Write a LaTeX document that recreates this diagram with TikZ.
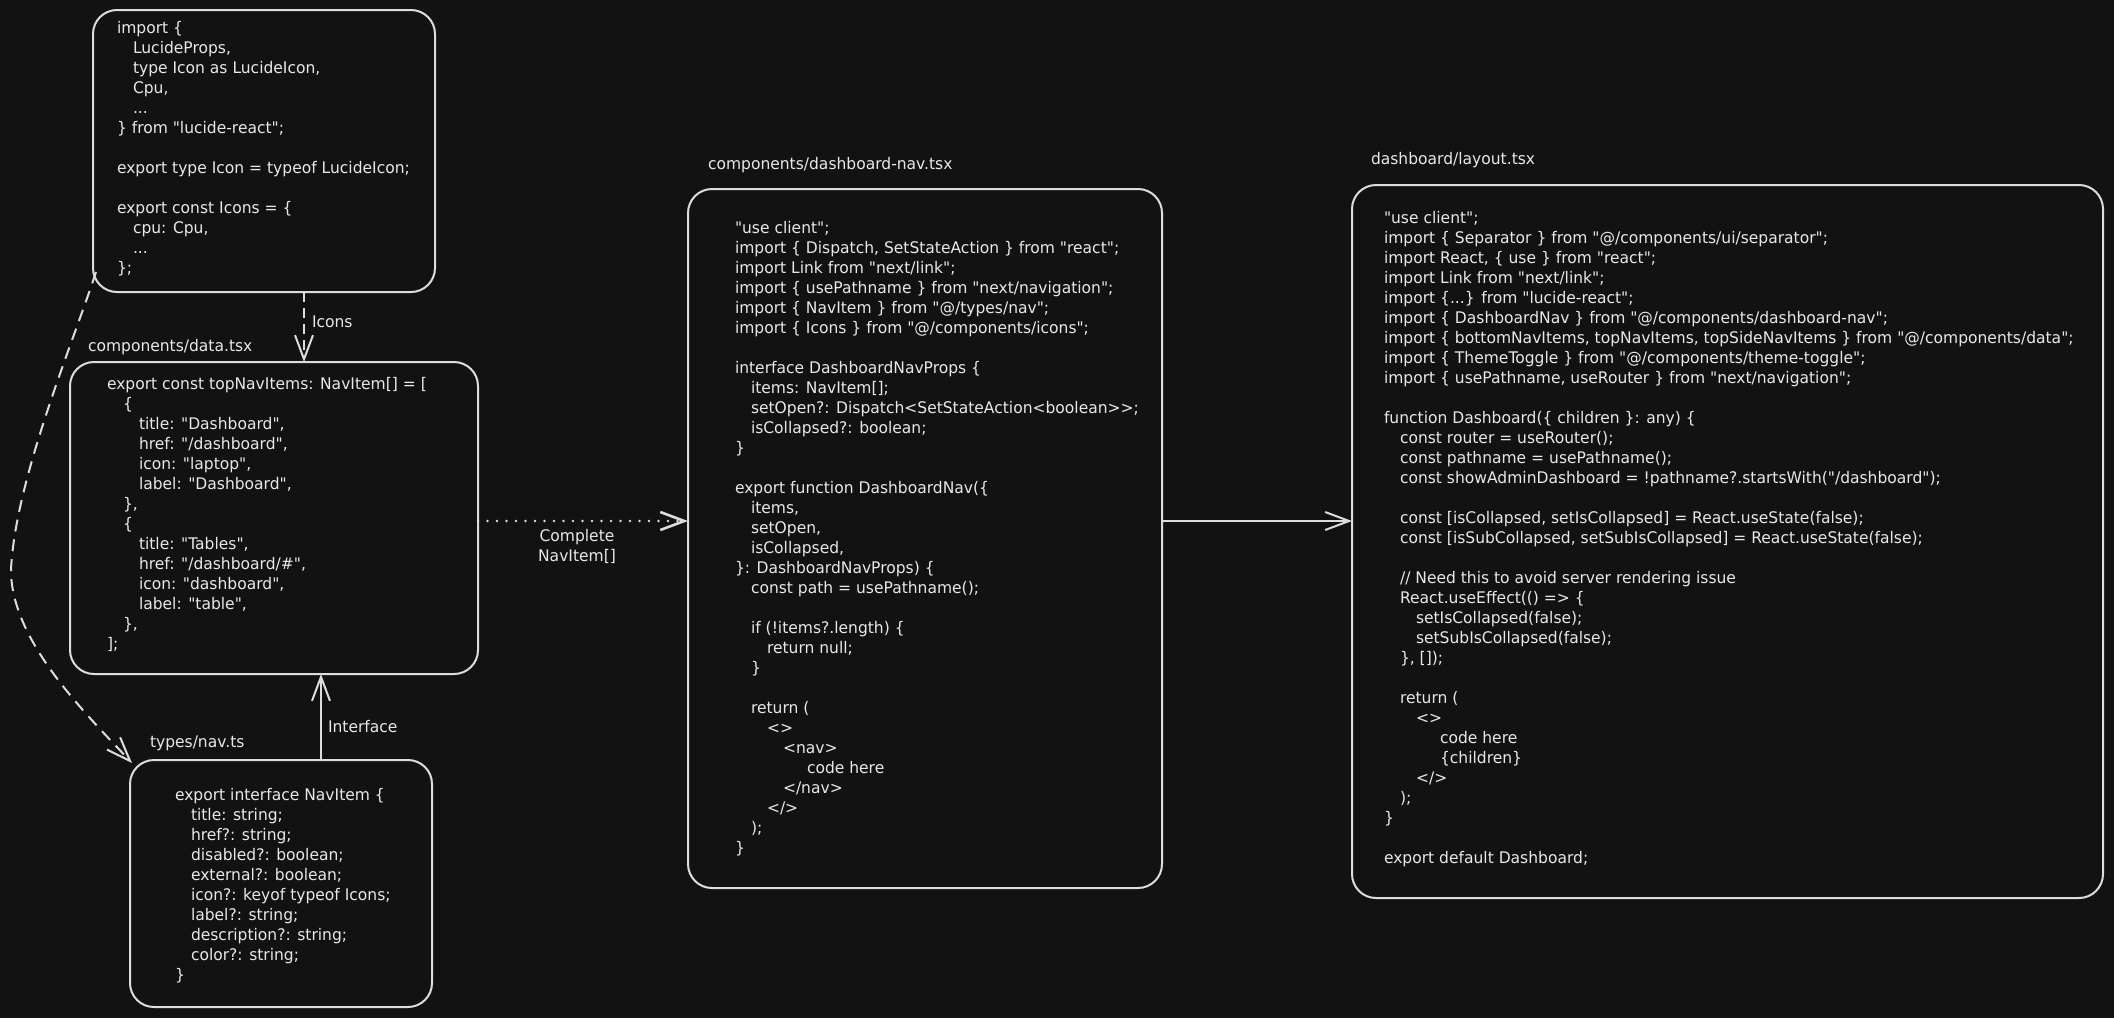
\documentclass[tikz,border=0pt]{standalone}
\usepackage{fontspec}
\usetikzlibrary{arrows.meta,calc}
\newfontfamily\codefont{DejaVu Sans}[FakeStretch=0.97]
\definecolor{bgc}{HTML}{121212}
\definecolor{inkc}{HTML}{DDDDDD}
\definecolor{txtc}{HTML}{E8E8E8}
\newcommand\codeind[1]{\hspace*{#1\dimexpr 8pt\relax}}
\begin{document}
\begin{tikzpicture}[x=0.5pt,y=-0.5pt,
  every node/.style={inner sep=0pt, outer sep=0pt, text=txtc, font=\codefont\fontsize{8pt}{10pt}\selectfont},
  box/.style={draw=inkc, line width=1pt, rounded corners=12pt},
  code/.style={anchor=base west, align=left},
  lbl/.style={anchor=west},
  link/.style={draw=inkc, line width=1pt, -{Straight Barb[length=12pt,width=9pt]}},
  dashlink/.style={link, dash pattern=on 5pt off 3pt},
  curvelink/.style={link, dash pattern=on 6pt off 4pt},
  dotlink/.style={link, line cap=round, line width=1.3pt, dash pattern=on 0pt off 4.75pt}]
\fill[bgc] (0,0) rectangle (2114,1018);
\useasboundingbox (0,0) rectangle (2114,1018);

% boxes
\node[box, minimum width=171pt, minimum height=141pt] (b1) at (264,151) {};
\node[box, minimum width=204pt, minimum height=156pt] (b2) at (274,518) {};
\node[box, minimum width=151pt, minimum height=123.5pt] (b3) at (281,883.5) {};
\node[box, minimum width=237pt, minimum height=349.5pt] (b4) at (925,538.5) {};
\node[box, minimum width=375.5pt, minimum height=356.5pt] (b5) at (1727.5,541.5) {};

% titles
\node[lbl] (t2) at (88,347) {components/data.tsx};
\node[lbl] (t3) at (150,743) {types/nav.ts};
\node[lbl] (t4) at (708,165) {components/dashboard-nav.tsx};
\node[lbl] (t5) at (1371,160) {dashboard/layout.tsx};

% code box 1
\node[code] (c1) at (117,33) {\begin{tabular}[t]{@{}l@{}}
import \{\\
\codeind{1}LucideProps,\\
\codeind{1}type Icon as LucideIcon,\\
\codeind{1}Cpu,\\
\codeind{1}...\\
\} from "lucide-react";\\
\\
export type Icon = typeof LucideIcon;\\
\\
export const Icons = \{\\
\codeind{1}cpu: Cpu,\\
\codeind{1}...\\
\};
\end{tabular}};

% code box 2
\node[code] (c2) at (107,389) {\begin{tabular}[t]{@{}l@{}}
export const topNavItems: NavItem[] = [\\
\codeind{1}\{\\
\codeind{2}title: "Dashboard",\\
\codeind{2}href: "/dashboard",\\
\codeind{2}icon: "laptop",\\
\codeind{2}label: "Dashboard",\\
\codeind{1}\},\\
\codeind{1}\{\\
\codeind{2}title: "Tables",\\
\codeind{2}href: "/dashboard/\#",\\
\codeind{2}icon: "dashboard",\\
\codeind{2}label: "table",\\
\codeind{1}\},\\
];
\end{tabular}};

% code box 3
\node[code] (c3) at (175,800) {\begin{tabular}[t]{@{}l@{}}
export interface NavItem \{\\
\codeind{1}title: string;\\
\codeind{1}href?: string;\\
\codeind{1}disabled?: boolean;\\
\codeind{1}external?: boolean;\\
\codeind{1}icon?: keyof typeof Icons;\\
\codeind{1}label?: string;\\
\codeind{1}description?: string;\\
\codeind{1}color?: string;\\
\}
\end{tabular}};

% code box 4
\node[code] (c4) at (735,233) {\begin{tabular}[t]{@{}l@{}}
"use client";\\
import \{ Dispatch, SetStateAction \} from "react";\\
import Link from "next/link";\\
import \{ usePathname \} from "next/navigation";\\
import \{ NavItem \} from "@/types/nav";\\
import \{ Icons \} from "@/components/icons";\\
\\
interface DashboardNavProps \{\\
\codeind{1}items: NavItem[];\\
\codeind{1}setOpen?: Dispatch<SetStateAction<boolean>{}>;\\
\codeind{1}isCollapsed?: boolean;\\
\}\\
\\
export function DashboardNav(\{\\
\codeind{1}items,\\
\codeind{1}setOpen,\\
\codeind{1}isCollapsed,\\
\}: DashboardNavProps) \{\\
\codeind{1}const path = usePathname();\\
\\
\codeind{1}if (!items?.length) \{\\
\codeind{2}return null;\\
\codeind{1}\}\\
\\
\codeind{1}return (\\
\codeind{2}<>\\
\codeind{3}<nav>\\
\codeind{4.5}code here\\
\codeind{3}</nav>\\
\codeind{2}</>\\
\codeind{1});\\
\}
\end{tabular}};

% code box 5
\node[code] (c5) at (1384,223) {\begin{tabular}[t]{@{}l@{}}
"use client";\\
import \{ Separator \} from "@/components/ui/separator";\\
import React, \{ use \} from "react";\\
import Link from "next/link";\\
import \{...\} from "lucide-react";\\
import \{ DashboardNav \} from "@/components/dashboard-nav";\\
import \{ bottomNavItems, topNavItems, topSideNavItems \} from "@/components/data";\\
import \{ ThemeToggle \} from "@/components/theme-toggle";\\
import \{ usePathname, useRouter \} from "next/navigation";\\
\\
function Dashboard(\{ children \}: any) \{\\
\codeind{1}const router = useRouter();\\
\codeind{1}const pathname = usePathname();\\
\codeind{1}const showAdminDashboard = !pathname?.startsWith("/dashboard");\\
\\
\codeind{1}const [isCollapsed, setIsCollapsed] = React.useState(false);\\
\codeind{1}const [isSubCollapsed, setSubIsCollapsed] = React.useState(false);\\
\\
\codeind{1}// Need this to avoid server rendering issue\\
\codeind{1}React.useEffect(() => \{\\
\codeind{2}setIsCollapsed(false);\\
\codeind{2}setSubIsCollapsed(false);\\
\codeind{1}\}, []);\\
\\
\codeind{1}return (\\
\codeind{2}<>\\
\codeind{3.5}code here\\
\codeind{3.5}\{children\}\\
\codeind{2}</>\\
\codeind{1});\\
\}\\
\\
export default Dashboard;
\end{tabular}};

% connector labels
\node[lbl] (l1) at (312,322) {Icons};
\node[lbl] (l2) at (328,727) {Interface};
\node[align=center] (l3) at (577,546) {Complete\\NavItem[]};

% connectors
\coordinate (xicons) at (304,0);
\coordinate (xiface) at (321,0);
\coordinate (ymid) at (0,521);
\coordinate (cv1) at (74,340);
\coordinate (cv2) at (15,480);
\coordinate (cvm) at (11,570);
\coordinate (cv3) at (11,640);
\coordinate (cv4) at (84,712);
\coordinate (cvs) at (96,272);
\coordinate (cve) at (132,763);
\draw[dashlink] (b1.south -| xicons) -- (b2.north -| xicons);
\draw[link] (b3.north -| xiface) -- (b2.south -| xiface);
\draw[dotlink] (b2.east |- ymid) -- (b4.west |- ymid);
\draw[link] (b4.east |- ymid) -- (b5.west |- ymid);
\draw[curvelink] (cvs) .. controls (cv1) and (cv2) .. (cvm) .. controls (cv3) and (cv4) .. (cve);
\end{tikzpicture}
\end{document}
